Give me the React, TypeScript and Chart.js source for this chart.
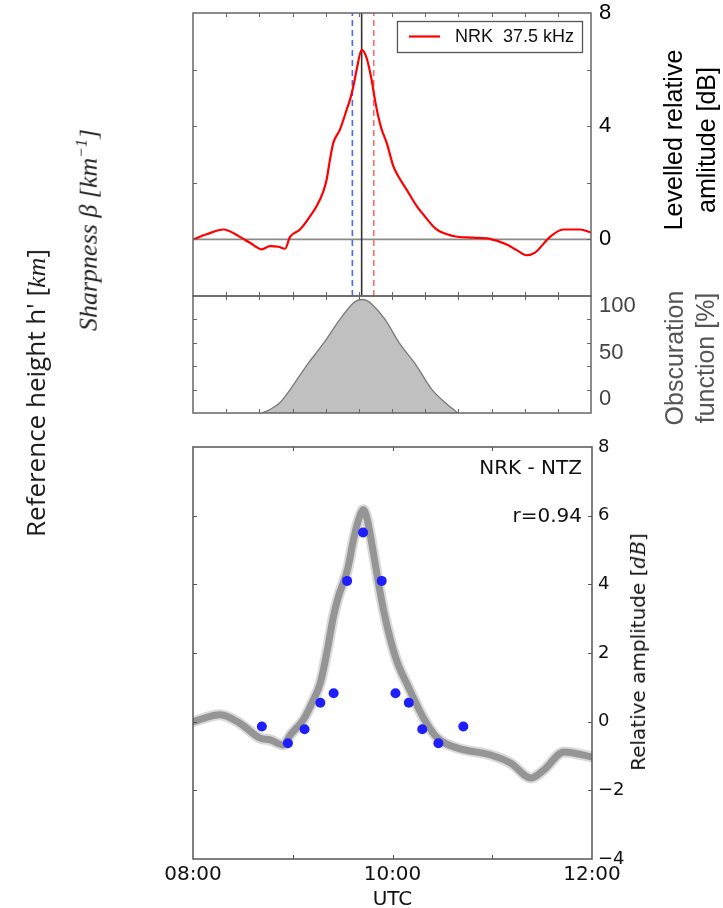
import React, { useEffect, useRef } from "react";
import { Chart, registerables } from "chart.js";

Chart.register(...registerables);

// ---------- DATA (time = minutes after 08:00 UTC) ----------
const xTickValues = [0, 120, 240];
const xTickLabels = ["08:00", "10:00", "12:00"];

// Panel 1: levelled relative amplitude NRK 37.5 kHz [dB]
const levelTimes = [0, 8.2, 18.3, 28.3, 34.4, 41.4, 46.4, 51.5, 55.5, 58.5, 64.5, 70.6, 74.6, 78.6, 80.6, 82.6, 84.6, 88.6, 92.7, 94.7, 96.7, 98.7, 101.7, 104.7, 107.7, 109.7, 111.7, 113.8, 116.8, 120.8, 123.8, 128.8, 134.9, 138.9, 146.9, 157, 169, 179, 189.2, 195.2, 201.2, 206.2, 215.3, 223.3, 233.4, 240];
const levelValues = [0.0, 0.18, 0.35, 0.09, -0.12, -0.35, -0.24, -0.26, -0.33, 0.09, 0.35, 0.82, 1.18, 1.7, 2.12, 2.82, 3.41, 3.88, 4.59, 4.94, 5.41, 6.0, 6.7, 6.41, 5.64, 4.94, 4.35, 3.88, 3.41, 2.59, 2.23, 1.76, 1.18, 0.88, 0.35, 0.12, 0.06, 0.02, -0.18, -0.38, -0.56, -0.47, 0.09, 0.35, 0.35, 0.24];
const levelYTicks = [0, 4, 8];
const levelMinorYTicks = [0, 2, 4, 6];
const minorXTicks20 = [20, 40, 60, 80, 100, 120, 140, 160, 180, 200, 220];
const legendLabel = "NRK  37.5 kHz";

// vertical markers
const blueMarkerTime = 96.1;
const maxObscurationTime = 101.7;
const redMarkerTime = 109.0;

// Panel 2: obscuration function [%]
const obscTimes = [41.6, 46.4, 52.5, 58.5, 68.7, 78.4, 88.6, 95.9, 98.9, 101.9, 104.9, 107.9, 115.8, 124.8, 134.5, 144.1, 152.0, 156.2, 159.8];
const obscValues = [0, 3, 9, 20, 41, 59, 80, 93, 96, 97, 96, 93, 80, 59, 41, 20, 9, 4, 0];
const obscLabelTicks = [0, 50, 100];
const obscMinorTicks = [20, 40, 60, 80];

// Panel 3: relative amplitude NRK - NTZ [dB]
const bandTimes = [0, 16.3, 28.3, 40.4, 46.4, 54.3, 58.5, 66.3, 72.4, 76.6, 80.8, 84.4, 87.4, 92.9, 96.5, 99.5, 102.5, 104.9, 107.9, 110.9, 114.6, 118.8, 123, 129, 138.7, 147.1, 159.2, 179.1, 191.2, 203.2, 211, 223.1, 240];
const bandValues = [0.0, 0.2, -0.05, -0.48, -0.53, -0.68, -0.39, 0.05, 0.63, 1.13, 2.09, 3.05, 3.63, 4.42, 5.29, 5.87, 6.17, 5.87, 5.09, 4.22, 3.25, 2.38, 1.71, 1.07, 0.1, -0.48, -0.77, -0.97, -1.21, -1.64, -1.41, -0.88, -1.03];
const pointTimes = [41.4, 57.1, 67.1, 76.6, 84.6, 92.7, 102.3, 113.5, 121.8, 129.8, 137.9, 147.6, 162.6];
const pointValues = [-0.14, -0.63, -0.22, 0.55, 0.83, 4.1, 5.51, 4.1, 0.83, 0.55, -0.22, -0.63, -0.14];
const relYTicks = [-4, -2, 0, 2, 4, 6, 8];
const relMinorYTicks = [-2, 0, 2, 4, 6];
const hourTicks = [60, 120, 180];

// ---------- helpers ----------
const toXY = (xs: number[], ys: number[]) => xs.map((x, i) => ({ x, y: ys[i] }));

const framePlugin = {
  id: "frame",
  afterDatasetsDraw(chart: any, _args: any, o: any) {
    if (!o || !o.show) return;
    const { ctx, chartArea: a, scales } = chart;
    ctx.save();
    ctx.strokeStyle = o.color;
    ctx.lineWidth = 1;
    const len = o.tickLength;
    const xs = scales.x;
    (o.xTicks || []).forEach((v: number) => {
      const px = Math.round(xs.getPixelForValue(v)) + 0.5;
      ctx.beginPath();
      ctx.moveTo(px, a.bottom);
      ctx.lineTo(px, a.bottom - len);
      ctx.moveTo(px, a.top);
      ctx.lineTo(px, a.top + len);
      ctx.stroke();
    });
    const ys = scales[o.yScale || "y"];
    (o.yTicks || []).forEach((v: number) => {
      const py = Math.round(ys.getPixelForValue(v)) + 0.5;
      ctx.beginPath();
      ctx.moveTo(a.left, py);
      ctx.lineTo(a.left + len, py);
      ctx.moveTo(a.right, py);
      ctx.lineTo(a.right - len, py);
      ctx.stroke();
    });
    ctx.lineWidth = o.lineWidth;
    ctx.strokeRect(a.left, a.top, a.right - a.left, a.bottom - a.top);
    ctx.restore();
  },
};

const boxLegendPlugin = {
  id: "boxLegend",
  afterDraw(chart: any, _args: any, o: any) {
    if (!o || !o.show) return;
    const ds = chart.data.datasets[o.datasetIndex];
    const { ctx, chartArea: a } = chart;
    ctx.save();
    ctx.font = o.font;
    const tw = ctx.measureText(ds.label).width;
    const w = o.padLeft + o.lineLength + o.gap + tw + o.padRight;
    const right = a.right - o.marginRight;
    const left = right - w;
    const top = a.top + o.marginTop;
    const h = o.height;
    ctx.fillStyle = "#ffffff";
    ctx.fillRect(left, top, w, h);
    ctx.strokeStyle = o.borderColor;
    ctx.lineWidth = 1.3;
    ctx.strokeRect(left + 0.5, top + 0.5, w, h);
    ctx.strokeStyle = ds.borderColor;
    ctx.lineWidth = ds.borderWidth;
    ctx.beginPath();
    ctx.moveTo(left + o.padLeft, top + h / 2);
    ctx.lineTo(left + o.padLeft + o.lineLength, top + h / 2);
    ctx.stroke();
    ctx.fillStyle = o.textColor;
    ctx.textBaseline = "middle";
    ctx.textAlign = "left";
    ctx.fillText(ds.label, left + o.padLeft + o.lineLength + o.gap, top + h / 2 + 1);
    ctx.restore();
  },
};

const fixedTicks = (vals: number[]) => (s: any) => {
  s.ticks = vals.map((v) => ({ value: v }));
};

// fix an axis box size and stop its labels from shrinking the plot area
const fixSize = (w: number | null, h: number | null) => (s: any) => {
  if (w !== null) s.width = w;
  if (h !== null) s.height = h;
  s.paddingTop = 0;
  s.paddingBottom = 0;
  s.paddingLeft = 0;
  s.paddingRight = 0;
};

const ARIAL = '"Liberation Sans", Arial, sans-serif';
const DEJAVU = '"DejaVu Sans", sans-serif';

export default function App() {
  const c1 = useRef<HTMLCanvasElement>(null);
  const c2 = useRef<HTMLCanvasElement>(null);
  const c3 = useRef<HTMLCanvasElement>(null);

  useEffect(() => {
    const charts: Chart[] = [];

    // ---- Panel 1 ----
    charts.push(
      new Chart(c1.current as HTMLCanvasElement, {
        type: "scatter",
        data: {
          datasets: [
            {
              label: legendLabel,
              data: toXY(levelTimes, levelValues),
              showLine: true,
              borderColor: "#ff0000",
              borderWidth: 2.2,
              pointRadius: 0,
              tension: 0.3,
              cubicInterpolationMode: "monotone",
            } as any,
            {
              label: "blue",
              data: [
                { x: blueMarkerTime, y: -2 },
                { x: blueMarkerTime, y: 8 },
              ],
              showLine: true,
              borderColor: "#4a68ff",
              borderDash: [6, 4],
              borderWidth: 1.6,
              pointRadius: 0,
            },
            {
              label: "max",
              data: [
                { x: maxObscurationTime, y: -2 },
                { x: maxObscurationTime, y: 8 },
              ],
              showLine: true,
              borderColor: "#333333",
              borderWidth: 1.6,
              pointRadius: 0,
            },
            {
              label: "red",
              data: [
                { x: redMarkerTime, y: -2 },
                { x: redMarkerTime, y: 8 },
              ],
              showLine: true,
              borderColor: "#ff6b6b",
              borderDash: [6, 4],
              borderWidth: 1.6,
              pointRadius: 0,
            },
            {
              label: "zero",
              data: [
                { x: 0, y: 0 },
                { x: 240, y: 0 },
              ],
              showLine: true,
              borderColor: "#8a8a8a",
              borderWidth: 1.6,
              pointRadius: 0,
            },
          ],
        },
        options: {
          responsive: false,
          animation: false,
          devicePixelRatio: 1,
          layout: { padding: { left: 193, top: 13, right: 0, bottom: 4 }, autoPadding: false } as any,
          plugins: {
            legend: { display: false },
            tooltip: { enabled: false },
            frame: { show: true, color: "#666", lineWidth: 1.5, tickLength: 4, xTicks: minorXTicks20, yTicks: levelMinorYTicks },
            boxLegend: {
              show: true,
              datasetIndex: 0,
              font: `18px ${ARIAL}`,
              padLeft: 12,
              lineLength: 31,
              gap: 15,
              padRight: 8,
              marginRight: 9,
              marginTop: 8,
              height: 31,
              borderColor: "#555",
              textColor: "#111",
            },
          } as any,
          scales: {
            x: { type: "linear", display: false, min: 0, max: 240, afterFit: fixSize(null, 0) },
            y: {
              type: "linear",
              position: "right",
              min: -2,
              max: 8,
              afterBuildTicks: fixedTicks(levelYTicks),
              afterFit: fixSize(132, null),
              grid: { display: false, drawTicks: false },
              border: { display: false },
              ticks: { font: { family: ARIAL, size: 22 }, color: "#000", padding: 8 },
            },
          },
        },
        plugins: [framePlugin, boxLegendPlugin],
      })
    );

    // ---- Panel 2 ----
    charts.push(
      new Chart(c2.current as HTMLCanvasElement, {
        type: "scatter",
        data: {
          datasets: [
            {
              label: "obscuration",
              data: toXY(obscTimes, obscValues),
              yAxisID: "yObs",
              showLine: true,
              fill: "start",
              backgroundColor: "#c0c0c0",
              borderColor: "#7a7a7a",
              borderWidth: 1.3,
              pointRadius: 0,
              tension: 0.3,
              cubicInterpolationMode: "monotone",
            } as any,
          ],
        },
        options: {
          responsive: false,
          animation: false,
          devicePixelRatio: 1,
          layout: { padding: { left: 193, top: 6, right: 0, bottom: 7 }, autoPadding: false } as any,
          plugins: {
            legend: { display: false },
            tooltip: { enabled: false },
            frame: { show: true, color: "#666", lineWidth: 1.5, tickLength: 4, xTicks: minorXTicks20, yTicks: obscMinorTicks, yScale: "yObs" },
          } as any,
          scales: {
            x: { type: "linear", display: false, min: 0, max: 240, afterFit: fixSize(null, 0) },
            yObs: { type: "linear", display: false, min: 0, max: 100, afterFit: fixSize(0, null) },
            y: {
              type: "linear",
              position: "right",
              min: -15,
              max: 111,
              afterBuildTicks: fixedTicks(obscLabelTicks),
              afterFit: fixSize(132, null),
              grid: { display: false, drawTicks: false },
              border: { display: false },
              ticks: { font: { family: ARIAL, size: 22 }, color: "#444", padding: 8 },
            },
          },
        },
        plugins: [framePlugin],
      })
    );

    // ---- Panel 3 ----
    charts.push(
      new Chart(c3.current as HTMLCanvasElement, {
        type: "scatter",
        data: {
          datasets: [
            {
              label: "hourly",
              data: toXY(pointTimes, pointValues),
              backgroundColor: "#1e1eff",
              borderWidth: 0,
              pointRadius: 5,
              pointHoverRadius: 5,
            },
            {
              label: "band core",
              data: toXY(bandTimes, bandValues),
              showLine: true,
              borderColor: "#959595",
              borderWidth: 7,
              borderJoinStyle: "round",
              borderCapStyle: "round",
              pointRadius: 0,
              tension: 0.3,
              cubicInterpolationMode: "monotone",
            } as any,
            {
              label: "band spread",
              data: toXY(bandTimes, bandValues),
              showLine: true,
              borderColor: "rgba(150,150,150,0.35)",
              borderWidth: 11,
              borderJoinStyle: "round",
              borderCapStyle: "round",
              pointRadius: 0,
              tension: 0.3,
              cubicInterpolationMode: "monotone",
            } as any,
          ],
        },
        options: {
          responsive: false,
          animation: false,
          devicePixelRatio: 1,
          layout: { padding: { left: 193, top: 27, right: 0, bottom: 0 }, autoPadding: false } as any,
          plugins: {
            legend: { display: false },
            tooltip: { enabled: false },
            frame: { show: true, color: "#555", lineWidth: 1.5, tickLength: 4, xTicks: hourTicks, yTicks: relMinorYTicks },
          } as any,
          scales: {
            x: {
              type: "linear",
              min: 0,
              max: 240,
              afterBuildTicks: fixedTicks(xTickValues),
              afterFit: fixSize(null, 61),
              grid: { display: false, drawTicks: false },
              border: { display: false },
              ticks: {
                autoSkip: false,
                maxRotation: 0,
                padding: 4,
                color: "#111",
                font: { family: DEJAVU, size: 20 },
                callback: (v: any) => {
                  const i = xTickValues.indexOf(Number(v));
                  return i >= 0 ? xTickLabels[i] : "";
                },
              },
              title: {
                display: true,
                text: "UTC",
                color: "#111",
                font: { family: DEJAVU, size: 20, lineHeight: 1 },
                padding: { top: 0, bottom: 10 },
              },
            },
            y: {
              type: "linear",
              position: "right",
              min: -4,
              max: 8,
              afterBuildTicks: fixedTicks(relYTicks),
              afterFit: fixSize(131, null),
              grid: { display: false, drawTicks: false },
              border: { display: false },
              ticks: {
                font: { family: DEJAVU, size: 18 },
                color: "#111",
                padding: 6,
                callback: (v: any) => (Number(v) < 0 ? "\u2212" + Math.abs(Number(v)) : String(v)),
              },
            },
          },
        },
        plugins: [framePlugin],
      })
    );

    return () => charts.forEach((c) => c.destroy());
  }, []);

  const rot: React.CSSProperties = {
    position: "absolute",
    transform: "translate(-50%, -50%) rotate(-90deg)",
    whiteSpace: "nowrap",
    textAlign: "center",
  };

  return (
    <div style={{ position: "absolute", left: 0, top: 0, width: 723, height: 908, overflow: "hidden", background: "#fff" }}>
      <canvas ref={c1} width={723} height={300} style={{ position: "absolute", left: 0, top: 0 }} />
      <canvas ref={c2} width={723} height={130} style={{ position: "absolute", left: 0, top: 290 }} />
      <canvas ref={c3} width={723} height={500} style={{ position: "absolute", left: 0, top: 420 }} />

      <div style={{ ...rot, left: 690, top: 140, font: `25px ${ARIAL}`, lineHeight: "33px", color: "#000" }}>
        Levelled relative
        <br />
        amlitude [dB]
      </div>
      <div style={{ ...rot, left: 690, top: 358, font: `25px ${ARIAL}`, lineHeight: "31px", color: "#555" }}>
        Obscuration
        <br />
        function [%]
      </div>
      <div style={{ ...rot, left: 638, top: 652, font: `20px ${DEJAVU}`, lineHeight: "22px", color: "#111" }}>
        Relative amplitude [<span style={{ fontFamily: '"DejaVu Serif", serif', fontStyle: "italic" }}>dB</span>]
      </div>
      <div style={{ ...rot, left: 36, top: 393, font: `400 26px "Open Sans", sans-serif`, lineHeight: "30px", color: "#1a1a1a" }}>
        Reference height h' [<span style={{ fontFamily: '"Liberation Serif", serif', fontStyle: "italic" }}>km</span>]
      </div>
      <div
        style={{
          ...rot,
          left: 85,
          top: 230,
          font: `italic 26px "Liberation Serif", serif`,
          lineHeight: "30px",
          color: "#222",
        }}
      >
        Sharpness β [km<sup style={{ fontSize: "16px" }}>−1</sup>]
      </div>

      <div style={{ position: "absolute", right: 141, top: 456, font: `20px ${DEJAVU}`, lineHeight: "22px", color: "#111" }}>
        NRK - NTZ
      </div>
      <div style={{ position: "absolute", right: 141, top: 504, font: `20px ${DEJAVU}`, lineHeight: "22px", color: "#111" }}>
        r=0.94
      </div>
    </div>
  );
}
